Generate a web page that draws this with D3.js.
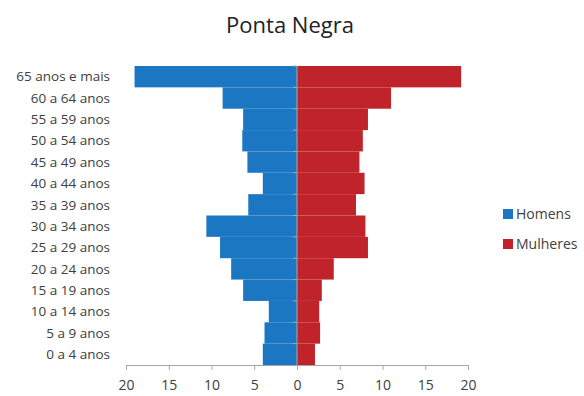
<!DOCTYPE html>
<html>
<head>
<meta charset="utf-8">
<script src="https://cdn.jsdelivr.net/npm/d3@7"></script>
<style>
  html, body { margin: 0; padding: 0; background: #fff; }
  svg { display: block; font-family: "Open Sans", "Liberation Sans", sans-serif; }
</style>
</head>
<body>
<div id="chart"></div>
<script>
// Age groups, oldest at the top of the pyramid
const categories = [
  "65 anos e mais", "60 a 64 anos", "55 a 59 anos", "50 a 54 anos",
  "45 a 49 anos", "40 a 44 anos", "35 a 39 anos", "30 a 34 anos",
  "25 a 29 anos", "20 a 24 anos", "15 a 19 anos", "10 a 14 anos",
  "5 a 9 anos", "0 a 4 anos"
];
// Share of population (%) per age group
const homens   = [19.0, 8.7, 6.3, 6.4, 5.8, 4.0, 5.7, 10.6, 9.0, 7.7, 6.3, 3.3, 3.8, 4.0];
const mulheres = [19.2, 11.0, 8.3, 7.7, 7.3, 7.9, 6.9, 8.0, 8.3, 4.3, 2.9, 2.6, 2.7, 2.1];
const xTicks = [-20, -15, -10, -5, 0, 5, 10, 15, 20];
const seriesNames = ["Homens", "Mulheres"];
const colors = ["#1c77c3", "#c1232b"];

const width = 584, height = 396;
const svg = d3.select("#chart").append("svg")
  .attr("width", width).attr("height", height);

const x = d3.scaleLinear().domain([-20, 20]).range([126, 468]);
const y = d3.scaleBand().domain(categories).range([66, 365]).padding(0);

// Title
svg.append("text")
  .attr("x", 290).attr("y", 33)
  .attr("text-anchor", "middle")
  .attr("font-size", 22)
  .attr("fill", "#222")
  .text("Ponta Negra");

// Bars: men to the left, women to the right
svg.append("g").selectAll("rect")
  .data(categories.map((c, i) => ({ c, v: homens[i] })))
  .join("rect")
  .attr("x", d => x(-d.v))
  .attr("y", d => y(d.c))
  .attr("width", d => x(0) - x(-d.v))
  .attr("height", y.bandwidth())
  .attr("fill", colors[0]);

svg.append("g").selectAll("rect")
  .data(categories.map((c, i) => ({ c, v: mulheres[i] })))
  .join("rect")
  .attr("x", x(0))
  .attr("y", d => y(d.c))
  .attr("width", d => x(d.v) - x(0))
  .attr("height", y.bandwidth())
  .attr("fill", colors[1]);

// Bottom axis with absolute values
const xAxis = svg.append("g")
  .attr("transform", `translate(0,${y.range()[1]})`)
  .call(d3.axisBottom(x).tickValues(xTicks).tickFormat(d => Math.abs(d)).tickSizeOuter(0).tickSize(5));
xAxis.select(".domain").attr("stroke", "#a6a6a6");
xAxis.selectAll(".tick line").attr("stroke", "#a6a6a6");
xAxis.selectAll(".tick text")
  .attr("font-size", 14).attr("fill", "#404040").attr("y", 11).attr("dy", "1.0em")
  .attr("font-family", "\"Open Sans\", sans-serif");

// Center axis with tick marks between age groups
const center = svg.append("g");
center.append("line")
  .attr("x1", x(0)).attr("x2", x(0))
  .attr("y1", y.range()[0]).attr("y2", y.range()[1])
  .attr("stroke", "#a6a6a6");
center.selectAll("line.tk")
  .data(categories)
  .join("line").attr("class", "tk")
  .attr("x1", x(0) - 4).attr("x2", x(0))
  .attr("y1", d => y(d)).attr("y2", d => y(d))
  .attr("stroke", "#a6a6a6");

// Category labels at the left
svg.append("g").selectAll("text")
  .data(categories)
  .join("text")
  .attr("x", 110)
  .attr("y", d => y(d) + y.bandwidth() / 2)
  .attr("dy", "0.35em")
  .attr("text-anchor", "end")
  .attr("font-size", 13.5)
  .attr("fill", "#404040")
  .text(d => d);

// Legend
const legend = svg.append("g");
seriesNames.forEach((name, i) => {
  const ly = 214 + i * 30;
  legend.append("rect")
    .attr("x", 503).attr("y", ly - 5)
    .attr("width", 10).attr("height", 10)
    .attr("fill", colors[i]);
  legend.append("text")
    .attr("x", 516).attr("y", ly)
    .attr("dy", "0.35em")
    .attr("font-size", 14)
    .attr("fill", "#404040")
    .text(name);
});
</script>
</body>
</html>
